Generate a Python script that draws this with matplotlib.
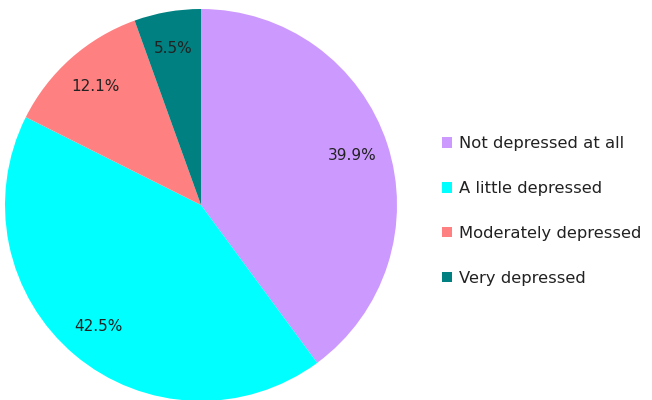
import matplotlib.pyplot as plt
from matplotlib.patches import Patch

# Adatok
kategoriak = ['Not depressed at all', 'A little depressed', 'Moderately depressed', 'Very depressed']
ertekek = [39.9, 42.5, 12.1, 5.5]
szinek = ['#CC99FF', '#00FFFF', '#FF8080', '#008080']

fig = plt.figure(figsize=(6.52, 4), dpi=100)
# pie kör: középpont (201, 205) px, sugár 196 px
ax = fig.add_axes([5 / 652, -1 / 400, 392 / 652, 392 / 400])
ax.pie(ertekek, colors=szinek, startangle=90, counterclock=False,
       autopct='%.1f%%', pctdistance=0.81,
       textprops=dict(fontsize=11, color='#222222'))
ax.set_xlim(-1, 1)
ax.set_ylim(-1, 1)
ax.set_aspect('equal')

# jelmagyarázat
jelek = [Patch(facecolor=c, edgecolor='none') for c in szinek]
fig.legend(jelek, kategoriak, loc='center left', bbox_to_anchor=(427 / 652, 1 - 211 / 400),
           frameon=False, fontsize=11.8, handlelength=0.6, handleheight=0.6,
           handletextpad=0.45, labelspacing=1.82, labelcolor='#222222')

plt.savefig('out.png', dpi=100)
